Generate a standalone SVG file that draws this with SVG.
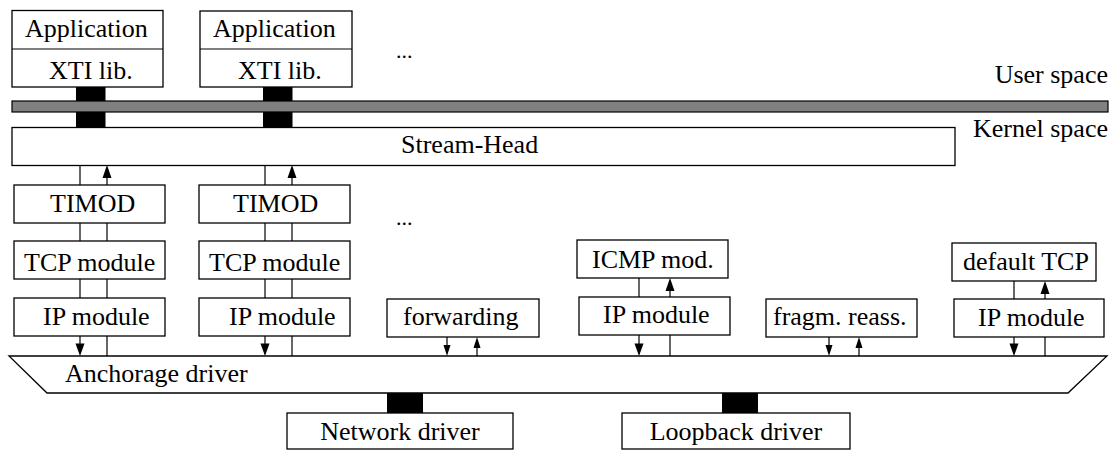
<svg xmlns="http://www.w3.org/2000/svg" width="1114" height="451" viewBox="0 0 1114 451">
<rect width="1114" height="451" fill="#fff"/>

<g id="app1">
<rect x="12" y="10.5" width="151" height="76.5" fill="#fff" stroke="#000" stroke-width="1.3"/>
<line x1="12" y1="49" x2="163" y2="49" stroke="#000" stroke-width="1.2"/>
<text x="25" y="37" font-family="Liberation Serif, serif" font-size="26" style="font-family:'Liberation Serif',serif;font-size:26px">Application</text>
<text x="49" y="79" font-family="Liberation Serif, serif" font-size="26" style="font-family:'Liberation Serif',serif;font-size:26px">XTI lib.</text>
</g>
<g id="app2">
<rect x="200" y="11" width="152" height="76" fill="#fff" stroke="#000" stroke-width="1.3"/>
<line x1="200" y1="49" x2="352" y2="49" stroke="#000" stroke-width="1.2"/>
<text x="213" y="37" font-family="Liberation Serif, serif" font-size="26" style="font-family:'Liberation Serif',serif;font-size:26px">Application</text>
<text x="238" y="79" font-family="Liberation Serif, serif" font-size="26" style="font-family:'Liberation Serif',serif;font-size:26px">XTI lib.</text>
</g>
<text x="396" y="58" font-family="Liberation Serif, serif" font-size="22" style="font-family:'Liberation Serif',serif;font-size:22px">...</text>

<g id="connectors" stroke-width="1.2">
<rect x="76" y="87" width="29.5" height="40.5" fill="#000"/>
<rect x="263" y="87" width="29.5" height="40.5" fill="#000"/>
<rect x="387" y="393" width="36" height="20" fill="#000"/>
<rect x="722" y="393" width="36" height="20" fill="#000"/>
<g stroke="#000" fill="none">
<line x1="80" y1="165" x2="80" y2="185"/>
<line x1="107" y1="175" x2="107" y2="185"/>
<line x1="265" y1="165" x2="265" y2="185"/>
<line x1="292" y1="175" x2="292" y2="185"/>
<line x1="80" y1="223" x2="80" y2="241"/>
<line x1="107" y1="223" x2="107" y2="241"/>
<line x1="265" y1="223" x2="265" y2="241"/>
<line x1="292" y1="223" x2="292" y2="241"/>
<line x1="80" y1="279" x2="80" y2="298"/>
<line x1="107" y1="279" x2="107" y2="298"/>
<line x1="265" y1="279" x2="265" y2="298"/>
<line x1="292" y1="279" x2="292" y2="298"/>
<line x1="80" y1="336" x2="80" y2="345"/>
<line x1="107" y1="336" x2="107" y2="356"/>
<line x1="265" y1="336" x2="265" y2="345"/>
<line x1="292" y1="336" x2="292" y2="356"/>
<line x1="447" y1="337" x2="447" y2="346"/>
<line x1="477" y1="347" x2="477" y2="356"/>
<line x1="639" y1="278" x2="639" y2="297"/>
<line x1="670" y1="289" x2="670" y2="297"/>
<line x1="639" y1="335" x2="639" y2="345"/>
<line x1="670" y1="335" x2="670" y2="356"/>
<line x1="829" y1="337" x2="829" y2="346"/>
<line x1="859" y1="347" x2="859" y2="356"/>
<line x1="1014" y1="281" x2="1014" y2="299"/>
<line x1="1045" y1="292" x2="1045" y2="299"/>
<line x1="1014" y1="337" x2="1014" y2="345"/>
<line x1="1045" y1="337" x2="1045" y2="356"/>
</g>
<g fill="#000" stroke="none">
<polygon points="107,165 102.5,178 111.5,178"/>
<polygon points="292,165 287.5,178 296.5,178"/>
<polygon points="80,356 75.5,343.5 84.5,343.5"/>
<polygon points="265,356 260.5,343.5 269.5,343.5"/>
<polygon points="447,356 443.5,345 450.5,345"/>
<polygon points="477,337 473.5,348 480.5,348"/>
<polygon points="670,278 665.5,291 674.5,291"/>
<polygon points="639,356 634.5,343.5 643.5,343.5"/>
<polygon points="829,356 825.5,345 832.5,345"/>
<polygon points="859,337 855.5,348 862.5,348"/>
<polygon points="1045,281 1040.5,294 1049.5,294"/>
<polygon points="1014,356 1009.5,343.5 1018.5,343.5"/>
</g>
</g>

<g id="boundary">
<rect x="12" y="101" width="1096" height="11" fill="#808080" stroke="#000" stroke-width="1.2"/>
<text x="1108" y="83" text-anchor="end" font-family="Liberation Serif, serif" font-size="26" style="font-family:'Liberation Serif',serif;font-size:26px">User space</text>
<text x="1108" y="137" text-anchor="end" font-family="Liberation Serif, serif" font-size="26" style="font-family:'Liberation Serif',serif;font-size:26px">Kernel space</text>
</g>

<g id="streamhead">
<rect x="12" y="127.5" width="943" height="38" fill="#fff" stroke="#000" stroke-width="1.3"/>
<text x="401" y="153" font-family="Liberation Serif, serif" font-size="26" style="font-family:'Liberation Serif',serif;font-size:26px">Stream-Head</text>
</g>

<g id="timod1">
<rect x="14" y="185" width="151" height="38" fill="#fff" stroke="#000" stroke-width="1.3"/>
<text x="50" y="212" font-family="Liberation Serif, serif" font-size="26" style="font-family:'Liberation Serif',serif;font-size:26px">TIMOD</text>
</g>
<g id="timod2">
<rect x="199" y="185" width="151" height="38" fill="#fff" stroke="#000" stroke-width="1.3"/>
<text x="233" y="212" font-family="Liberation Serif, serif" font-size="26" style="font-family:'Liberation Serif',serif;font-size:26px">TIMOD</text>
</g>
<text x="396" y="225" font-family="Liberation Serif, serif" font-size="22" style="font-family:'Liberation Serif',serif;font-size:22px">...</text>

<g id="tcp1">
<rect x="14" y="241" width="151" height="38" fill="#fff" stroke="#000" stroke-width="1.3"/>
<text x="24" y="271" font-family="Liberation Serif, serif" font-size="26" style="font-family:'Liberation Serif',serif;font-size:26px">TCP module</text>
</g>
<g id="tcp2">
<rect x="199" y="241" width="151" height="38" fill="#fff" stroke="#000" stroke-width="1.3"/>
<text x="209" y="271" font-family="Liberation Serif, serif" font-size="26" style="font-family:'Liberation Serif',serif;font-size:26px">TCP module</text>
</g>

<g id="ip1">
<rect x="14" y="298" width="151" height="38" fill="#fff" stroke="#000" stroke-width="1.3"/>
<text x="43" y="325" font-family="Liberation Serif, serif" font-size="26" style="font-family:'Liberation Serif',serif;font-size:26px">IP module</text>
</g>
<g id="ip2">
<rect x="199" y="298" width="151" height="38" fill="#fff" stroke="#000" stroke-width="1.3"/>
<text x="229" y="325" font-family="Liberation Serif, serif" font-size="26" style="font-family:'Liberation Serif',serif;font-size:26px">IP module</text>
</g>

<g id="forwarding">
<rect x="387" y="299" width="152" height="38" fill="#fff" stroke="#000" stroke-width="1.3"/>
<text x="403" y="325" font-family="Liberation Serif, serif" font-size="26" style="font-family:'Liberation Serif',serif;font-size:26px">forwarding</text>
</g>

<g id="icmp">
<rect x="577" y="240" width="151" height="38" fill="#fff" stroke="#000" stroke-width="1.3"/>
<text x="592" y="268" font-family="Liberation Serif, serif" font-size="26" style="font-family:'Liberation Serif',serif;font-size:26px">ICMP mod.</text>
</g>
<g id="ip3">
<rect x="579" y="297" width="151" height="38" fill="#fff" stroke="#000" stroke-width="1.3"/>
<text x="603" y="323" font-family="Liberation Serif, serif" font-size="26" style="font-family:'Liberation Serif',serif;font-size:26px">IP module</text>
</g>

<g id="fragm">
<rect x="766" y="299" width="151" height="38" fill="#fff" stroke="#000" stroke-width="1.3"/>
<text x="773" y="325" font-family="Liberation Serif, serif" font-size="26" style="font-family:'Liberation Serif',serif;font-size:26px">fragm. reass.</text>
</g>

<g id="defaulttcp">
<rect x="952" y="243" width="144" height="38" fill="#fff" stroke="#000" stroke-width="1.3"/>
<text x="963" y="270" font-family="Liberation Serif, serif" font-size="26" style="font-family:'Liberation Serif',serif;font-size:26px">default TCP</text>
</g>
<g id="ip4">
<rect x="954" y="299" width="150" height="38" fill="#fff" stroke="#000" stroke-width="1.3"/>
<text x="978" y="326" font-family="Liberation Serif, serif" font-size="26" style="font-family:'Liberation Serif',serif;font-size:26px">IP module</text>
</g>

<g id="anchorage">
<polygon points="9,356 1107,356 1068,393 47,393" fill="#fff" stroke="#000" stroke-width="1.3"/>
<text x="65" y="382" font-family="Liberation Serif, serif" font-size="26" style="font-family:'Liberation Serif',serif;font-size:26px">Anchorage driver</text>
</g>

<g id="network">
<rect x="287" y="413" width="226" height="36" fill="#fff" stroke="#000" stroke-width="1.3"/>
<text x="400" y="440" text-anchor="middle" font-family="Liberation Serif, serif" font-size="26" style="font-family:'Liberation Serif',serif;font-size:26px">Network driver</text>
</g>
<g id="loopback">
<rect x="622" y="413" width="228" height="36" fill="#fff" stroke="#000" stroke-width="1.3"/>
<text x="736" y="440" text-anchor="middle" font-family="Liberation Serif, serif" font-size="26" style="font-family:'Liberation Serif',serif;font-size:26px">Loopback driver</text>
</g>
</svg>
